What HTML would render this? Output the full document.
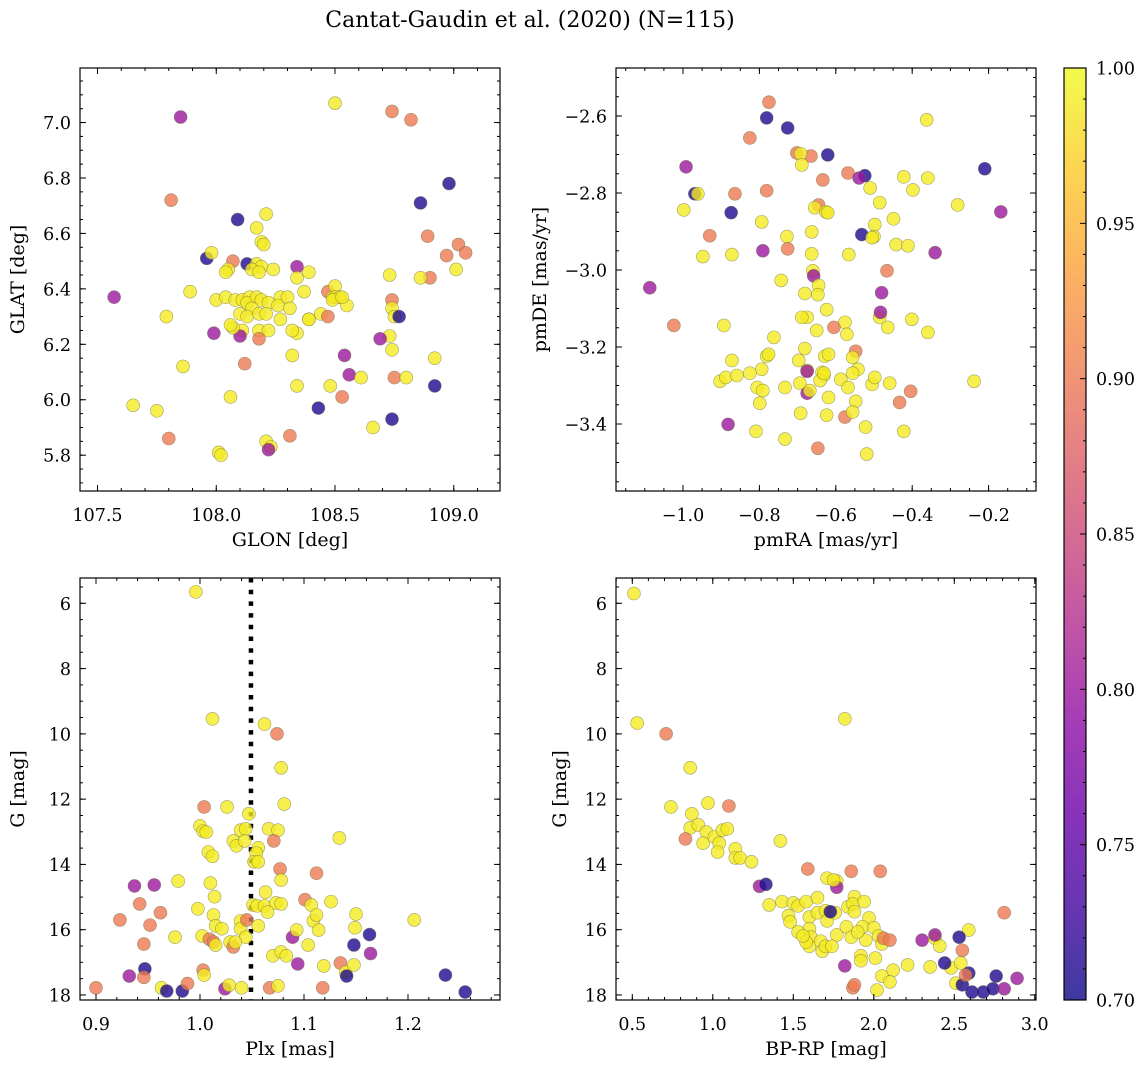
<!DOCTYPE html>
<html><head><meta charset="utf-8"><title>Cantat-Gaudin et al. (2020)</title>
<style>
html,body{margin:0;padding:0;background:#fff;}
svg{display:block;font-family:"DejaVu Serif","Liberation Serif",serif;}
</style></head>
<body>
<svg id="fig" width="1148" height="1067" viewBox="0 0 1148 1067" xmlns="http://www.w3.org/2000/svg">
<defs>
<linearGradient id="plasmaGrad" x1="0" y1="1" x2="0" y2="0">
<stop offset="0" stop-color="#0d0887"/><stop offset="0.1" stop-color="#41049d"/><stop offset="0.2" stop-color="#6a00a8"/><stop offset="0.3" stop-color="#8f0da4"/><stop offset="0.4" stop-color="#b12a90"/><stop offset="0.5" stop-color="#cc4778"/><stop offset="0.6" stop-color="#e16462"/><stop offset="0.7" stop-color="#f2844b"/><stop offset="0.8" stop-color="#fca636"/><stop offset="0.9" stop-color="#fcce25"/><stop offset="1" stop-color="#f0f921"/>
</linearGradient>
</defs>
<text x="530" y="27" font-size="22" text-anchor="middle">Cantat-Gaudin et al. (2020) (N=115)</text>
</svg>
<script>
// ---------- Panel 1: GLON / GLAT ----------
const glon = [107.57,107.81,107.85,108.50,108.74,108.82,108.98,108.86,108.89,109.02,109.05,108.97,109.01,108.90,108.86,108.09,107.96,107.98,108.13,108.07,107.89,108.05,108.04,108.00,108.04,108.17,108.21,108.19,108.20,108.17,108.19,108.24,108.15,108.18,108.08,108.11,108.14,108.13,108.17,108.19,108.22,108.27,108.26,108.30,108.31,108.15,108.10,108.13,108.18,108.21,108.27,108.11,108.18,108.22,108.10,108.18,108.07,108.06,108.34,108.34,108.39,108.37,108.47,108.49,108.50,108.50,108.52,108.49,108.55,108.44,108.39,108.34,108.39,108.32,108.47,108.53,108.73,108.74,108.74,108.75,108.77,108.73,108.69,108.74,108.54,108.56,108.53,108.48,108.61,108.75,108.80,108.92,108.92,108.32,108.34,108.43,108.74,108.66,108.31,108.21,108.23,108.22,108.01,108.02,108.06,107.80,107.75,107.65,107.79,107.86,107.99,108.12];
const glat = [6.37,6.72,7.02,7.07,7.04,7.01,6.78,6.71,6.59,6.56,6.53,6.52,6.47,6.44,6.44,6.65,6.51,6.53,6.49,6.50,6.39,6.47,6.46,6.36,6.37,6.62,6.67,6.57,6.56,6.49,6.48,6.47,6.47,6.46,6.36,6.36,6.37,6.35,6.37,6.36,6.35,6.37,6.34,6.37,6.33,6.33,6.31,6.30,6.31,6.31,6.29,6.25,6.25,6.25,6.23,6.22,6.26,6.27,6.48,6.44,6.46,6.39,6.39,6.37,6.41,6.37,6.37,6.36,6.34,6.31,6.29,6.24,6.29,6.25,6.30,6.37,6.45,6.36,6.33,6.30,6.30,6.23,6.22,6.18,6.16,6.09,6.01,6.05,6.08,6.08,6.08,6.15,6.05,6.16,6.05,5.97,5.93,5.90,5.87,5.85,5.83,5.82,5.81,5.80,6.01,5.86,5.96,5.98,6.30,6.12,6.24,6.13];
const prob1 = [0.80,0.90,0.80,0.99,0.90,0.90,0.71,0.71,0.90,0.90,0.90,0.90,0.99,0.90,0.99,0.71,0.71,0.99,0.71,0.90,0.99,0.99,0.99,0.99,0.99,0.99,0.99,0.99,0.99,0.99,0.99,0.99,0.99,0.99,0.99,0.99,0.99,0.99,0.99,0.99,0.99,0.99,0.99,0.99,0.99,0.99,0.99,0.99,0.99,0.99,0.99,0.99,0.99,0.99,0.80,0.90,0.99,0.99,0.80,0.99,0.99,0.99,0.90,0.99,0.99,0.99,0.99,0.99,0.99,0.99,0.99,0.99,0.99,0.99,0.90,0.99,0.99,0.90,0.99,0.99,0.71,0.99,0.80,0.99,0.80,0.80,0.90,0.99,0.99,0.90,0.99,0.99,0.71,0.99,0.99,0.71,0.71,0.99,0.90,0.99,0.99,0.80,0.99,0.99,0.99,0.90,0.99,0.99,0.99,0.99,0.80,0.90];

// ---------- Panel 2: pmRA / pmDE ----------
const pmra = [-0.775,-0.781,-0.825,-0.726,-0.362,-0.992,-0.969,-0.961,-0.864,-0.781,-0.702,-0.665,-0.621,-0.692,-0.689,-0.524,-0.210,-0.168,-0.281,-0.422,-0.359,-0.398,-0.485,-0.510,-0.634,-0.568,-0.539,-0.645,-0.655,-0.626,-0.621,-0.998,-0.874,-0.794,-0.663,-0.498,-0.449,-0.930,-0.532,-0.500,-0.505,-0.728,-0.791,-0.726,-0.872,-0.948,-0.663,-0.566,-0.442,-0.411,-0.340,-0.466,-0.660,-0.658,-0.645,-0.743,-0.480,-0.485,-1.087,-1.024,-0.893,-0.483,-0.401,-0.464,-0.359,-0.681,-0.647,-0.675,-0.650,-0.624,-0.576,-0.605,-0.762,-0.689,-0.681,-0.571,-0.629,-0.548,-0.556,-0.619,-0.542,-0.587,-0.568,-0.781,-0.776,-0.794,-0.697,-0.636,-0.631,-0.675,-0.872,-0.825,-0.903,-0.888,-0.859,-0.806,-0.791,-0.733,-0.694,-0.675,-0.675,-0.641,-0.631,-0.556,-0.505,-0.668,-0.692,-0.619,-0.624,-0.576,-0.548,-0.556,-0.522,-0.498,-0.459,-0.433,-0.422,-0.404,-0.238,-0.882,-0.809,-0.733,-0.647,-0.519,-0.799];
const pmde = [-2.564,-2.605,-2.657,-2.631,-2.610,-2.732,-2.802,-2.802,-2.802,-2.794,-2.696,-2.704,-2.701,-2.698,-2.727,-2.755,-2.737,-2.849,-2.831,-2.758,-2.761,-2.792,-2.825,-2.787,-2.766,-2.748,-2.761,-2.831,-2.838,-2.849,-2.851,-2.844,-2.851,-2.875,-2.901,-2.882,-2.867,-2.911,-2.908,-2.913,-2.916,-2.913,-2.950,-2.945,-2.960,-2.965,-2.958,-2.960,-2.934,-2.937,-2.955,-3.002,-3.002,-3.015,-3.040,-3.027,-3.059,-3.123,-3.046,-3.144,-3.144,-3.110,-3.128,-3.149,-3.162,-3.061,-3.064,-3.123,-3.157,-3.103,-3.136,-3.149,-3.175,-3.123,-3.204,-3.167,-3.224,-3.211,-3.227,-3.219,-3.258,-3.284,-3.305,-3.224,-3.219,-3.258,-3.235,-3.266,-3.274,-3.261,-3.235,-3.268,-3.289,-3.279,-3.274,-3.305,-3.313,-3.305,-3.294,-3.263,-3.320,-3.287,-3.268,-3.268,-3.297,-3.313,-3.372,-3.331,-3.377,-3.382,-3.341,-3.369,-3.408,-3.279,-3.294,-3.344,-3.419,-3.315,-3.289,-3.401,-3.419,-3.439,-3.463,-3.478,-3.346];
const prob2 = [0.90,0.71,0.90,0.71,0.99,0.80,0.71,0.99,0.90,0.90,0.90,0.90,0.71,0.99,0.99,0.71,0.71,0.80,0.99,0.99,0.99,0.99,0.99,0.99,0.90,0.90,0.80,0.90,0.99,0.99,0.99,0.99,0.71,0.99,0.99,0.99,0.99,0.90,0.71,0.99,0.99,0.99,0.80,0.90,0.99,0.99,0.99,0.99,0.99,0.99,0.80,0.90,0.99,0.80,0.99,0.99,0.80,0.99,0.80,0.90,0.99,0.80,0.99,0.99,0.99,0.99,0.99,0.99,0.99,0.99,0.99,0.90,0.99,0.99,0.99,0.99,0.99,0.90,0.99,0.99,0.99,0.99,0.99,0.99,0.99,0.99,0.99,0.99,0.99,0.99,0.99,0.99,0.99,0.99,0.99,0.99,0.99,0.99,0.99,0.80,0.80,0.99,0.99,0.99,0.99,0.99,0.99,0.99,0.99,0.90,0.99,0.99,0.99,0.99,0.99,0.90,0.99,0.90,0.99,0.80,0.99,0.99,0.90,0.99,0.99];

// ---------- Panel 3: Plx / G ----------
const plx = [0.996,1.012,1.062,1.074,1.078,1.081,1.004,1.026,1.047,1.000,1.003,1.006,1.039,1.044,1.066,1.075,1.071,1.032,1.035,1.043,1.056,1.008,1.012,1.054,1.052,1.056,1.134,1.077,1.112,0.979,1.010,1.078,1.063,0.998,1.013,1.015,1.051,1.126,1.014,1.055,1.062,1.073,1.078,1.065,1.101,1.107,1.109,1.112,1.150,1.114,1.104,1.039,1.039,1.044,1.056,1.045,1.002,1.009,1.013,1.015,1.029,1.032,1.034,1.021,0.976,1.089,1.094,1.070,1.078,1.083,1.093,0.937,0.956,0.923,0.962,0.942,0.952,0.946,0.947,0.946,0.932,0.900,0.963,0.968,0.983,0.988,1.003,1.004,1.024,1.028,1.040,1.067,1.075,1.118,1.119,1.135,1.140,1.141,1.148,1.148,1.164,1.163,1.206,1.236,1.255,1.149];
const gmag3 = [5.65,9.54,9.70,10.00,11.04,12.15,12.24,12.24,12.45,12.82,12.98,13.01,12.95,12.91,12.91,12.95,13.28,13.28,13.43,13.28,13.49,13.62,13.75,13.65,13.92,13.92,13.19,14.14,14.27,14.51,14.57,14.48,14.85,15.36,15.55,15.88,15.24,15.14,14.99,15.27,15.27,15.18,15.21,15.46,15.08,15.24,15.73,15.55,15.52,16.01,16.47,15.73,15.97,16.23,15.88,15.70,16.19,16.29,16.38,16.47,16.38,16.53,16.38,15.97,16.23,16.23,17.05,16.80,16.68,16.80,16.01,14.66,14.63,15.70,15.48,15.21,15.86,16.44,17.20,17.46,17.42,17.78,17.78,17.88,17.88,17.65,17.24,17.39,17.81,17.70,17.78,17.78,17.72,17.78,17.11,17.02,17.30,17.42,17.08,16.47,16.73,16.15,15.70,17.39,17.91,15.94];
const prob3 = [0.99,0.99,0.99,0.90,0.99,0.99,0.90,0.99,0.99,0.99,0.99,0.99,0.99,0.99,0.99,0.99,0.90,0.99,0.99,0.99,0.99,0.99,0.99,0.99,0.99,0.99,0.99,0.90,0.90,0.99,0.99,0.99,0.99,0.99,0.99,0.99,0.99,0.99,0.99,0.99,0.99,0.99,0.99,0.99,0.90,0.99,0.99,0.99,0.99,0.99,0.99,0.99,0.99,0.99,0.99,0.90,0.99,0.90,0.90,0.99,0.99,0.90,0.99,0.99,0.99,0.80,0.80,0.99,0.99,0.99,0.99,0.80,0.80,0.90,0.90,0.90,0.90,0.90,0.71,0.90,0.80,0.90,0.99,0.71,0.71,0.90,0.90,0.99,0.80,0.99,0.99,0.90,0.99,0.90,0.99,0.90,0.99,0.71,0.99,0.71,0.80,0.71,0.99,0.71,0.71,0.99];
const plxRef = [1.049];

// ---------- Panel 4: BP-RP / G ----------
const bprp = [0.51,0.53,1.82,0.71,0.86,0.74,0.97,1.10,0.87,0.86,0.83,0.91,0.96,0.94,1.01,1.06,1.09,1.04,1.03,1.14,1.14,1.17,1.24,1.42,1.29,1.33,1.59,1.86,2.04,1.71,1.77,1.77,1.75,1.35,1.43,1.50,1.53,1.47,1.58,1.60,1.65,1.65,1.70,1.71,1.76,1.73,1.84,1.88,1.87,1.94,1.97,1.77,1.60,1.61,1.60,1.58,1.67,1.68,1.70,1.74,1.88,1.93,1.83,1.95,2.00,2.03,2.05,2.06,2.01,1.92,1.82,1.86,1.90,2.10,2.12,2.05,2.10,2.21,1.87,1.88,1.92,2.02,2.35,2.30,2.38,2.41,2.48,2.44,2.54,2.59,2.51,2.55,2.59,2.38,2.53,2.55,2.57,2.81,2.61,2.68,2.74,2.76,2.81,2.89,1.48,1.53,1.56];
const gmag4 = [5.70,9.67,9.54,10.00,11.04,12.24,12.12,12.21,12.45,12.88,13.22,12.79,13.01,13.35,13.16,12.95,12.91,13.35,13.62,13.52,13.80,13.80,13.92,13.28,14.67,14.61,14.14,14.21,14.21,14.42,14.51,14.70,14.48,15.24,15.14,15.18,15.27,15.57,15.14,15.61,15.02,15.48,15.42,15.73,15.48,15.45,15.30,14.99,15.21,15.14,15.64,16.16,15.97,16.23,16.51,16.38,16.35,16.66,16.51,16.51,15.45,15.91,15.91,16.32,15.94,16.19,16.44,16.26,16.87,16.80,17.11,16.23,16.07,16.32,17.24,17.42,17.60,17.08,17.78,17.69,16.95,17.85,17.14,16.32,16.26,16.50,17.17,17.02,17.02,17.33,17.64,16.63,16.01,16.16,16.23,17.69,17.39,15.48,17.91,17.91,17.81,17.42,17.81,17.49,15.76,16.07,16.19];
const prob4 = [0.99,0.99,0.99,0.90,0.99,0.99,0.99,0.90,0.99,0.99,0.90,0.99,0.99,0.99,0.99,0.99,0.99,0.99,0.99,0.99,0.99,0.99,0.99,0.99,0.80,0.71,0.90,0.90,0.90,0.99,0.99,0.80,0.99,0.99,0.99,0.99,0.99,0.99,0.99,0.99,0.99,0.99,0.99,0.99,0.99,0.71,0.99,0.99,0.99,0.99,0.99,0.99,0.99,0.99,0.99,0.99,0.99,0.99,0.99,0.99,0.99,0.99,0.99,0.99,0.99,0.99,0.99,0.90,0.99,0.99,0.80,0.99,0.99,0.90,0.99,0.99,0.99,0.99,0.90,0.90,0.99,0.99,0.99,0.80,0.99,0.99,0.99,0.71,0.99,0.71,0.99,0.90,0.99,0.80,0.71,0.71,0.90,0.90,0.71,0.71,0.71,0.71,0.80,0.80,0.99,0.99,0.99];

const cbTicks = [0.70,0.75,0.80,0.85,0.90,0.95,1.00];

const NS = 'http://www.w3.org/2000/svg';
const svg = document.getElementById('fig');
const stops = [[13,8,135],[65,4,157],[106,0,168],[143,13,164],[177,42,144],[204,71,120],[225,100,98],[242,132,75],[252,166,54],[252,206,37],[240,249,33]];
function plasma(p){
  let t = (p-0.70)/0.30; t = Math.max(0,Math.min(1,t));
  const f = t*10, i = Math.min(9,Math.floor(f)), r = f-i;
  const a = stops[i], b = stops[i+1];
  return 'rgb('+a.map((v,k)=>Math.round(v+(b[k]-v)*r)).join(',')+')';
}
function mk(tag, attrs, parent){
  const e = document.createElementNS(NS, tag);
  for (const k in attrs) e.setAttribute(k, attrs[k]);
  (parent||svg).appendChild(e);
  return e;
}
function fmt(v, dec){ const s = v.toFixed(dec); return s.replace('-', '\u2212'); }

function panel(cfg){
  const g = mk('g', {});
  
  
  const X = v => cfg.x0 + (v - cfg.xmin)/(cfg.xmax - cfg.xmin)*(cfg.x1 - cfg.x0);
  const Y = cfg.invert ? (v => cfg.y0 + (v - cfg.ymin)/(cfg.ymax - cfg.ymin)*(cfg.y1 - cfg.y0))
                       : (v => cfg.y1 - (v - cfg.ymin)/(cfg.ymax - cfg.ymin)*(cfg.y1 - cfg.y0));
  if (cfg.vline !== undefined) {
    const l = mk('line', {x1:X(cfg.vline), x2:X(cfg.vline), y1:cfg.y0, y2:cfg.y1, stroke:'#000', 'stroke-width':4.5, 'stroke-dasharray':'4.5,7.2'}, g);
    
    
  }
  const pg = mk('g', {}, g);
  
  
  for (let i=0;i<cfg.xs.length;i++){
    const c = mk('circle', {cx:X(cfg.xs[i]), cy:Y(cfg.ys[i]), r:6.5, fill:plasma(cfg.ps[i]), 'fill-opacity':0.8, stroke:'#6a6a40', 'stroke-opacity':0.6, 'stroke-width':0.6}, pg);
    
    
  }
  const fr = mk('rect', {x:cfg.x0, y:cfg.y0, width:cfg.x1-cfg.x0, height:cfg.y1-cfg.y0, fill:'none', stroke:'#000', 'stroke-width':1.2}, g);
  
  
  const eps = 1e-9;
  function ticksX(step, len, labels){
    const s = Math.ceil(cfg.xmin/step - eps);
    for (let k=s; k*step <= cfg.xmax + eps; k++){
      const v = k*step, px = X(v);
      mk('line', {x1:px,x2:px,y1:cfg.y1,y2:cfg.y1-len,stroke:'#000','stroke-width':1}, g);
      mk('line', {x1:px,x2:px,y1:cfg.y0,y2:cfg.y0+len,stroke:'#000','stroke-width':1}, g);
      if (labels){
        const t = mk('text', {x:px, y:cfg.y1+30, 'font-size':17.5, 'text-anchor':'middle'}, g);
        t.textContent = fmt(v, cfg.xdec);
        
        
      }
    }
  }
  function ticksY(step, len, labels){
    const lo = Math.min(cfg.ymin,cfg.ymax), hi = Math.max(cfg.ymin,cfg.ymax);
    const s = Math.ceil(lo/step - eps);
    for (let k=s; k*step <= hi + eps; k++){
      const v = k*step, py = Y(v);
      mk('line', {x1:cfg.x0,x2:cfg.x0+len,y1:py,y2:py,stroke:'#000','stroke-width':1}, g);
      mk('line', {x1:cfg.x1,x2:cfg.x1-len,y1:py,y2:py,stroke:'#000','stroke-width':1}, g);
      if (labels){
        const t = mk('text', {x:cfg.x0-9, y:py+6.5, 'font-size':17.5, 'text-anchor':'end'}, g);
        t.textContent = fmt(v, cfg.ydec);
        
        
      }
    }
  }
  ticksX(cfg.xmin_step, 3, false); ticksX(cfg.xmaj, 6, true);
  ticksY(cfg.ymin_step, 3, false); ticksY(cfg.ymaj, 6, true);
  const xl = mk('text', {x:(cfg.x0+cfg.x1)/2, y:cfg.y1+55, 'font-size':19, 'text-anchor':'middle'}, g);
  xl.textContent = cfg.xlabel;
  
  
  const yc = (cfg.y0+cfg.y1)/2;
  const yl = mk('text', {x:cfg.ylx, y:yc, 'font-size':19, 'text-anchor':'middle', transform:'rotate(-90 '+cfg.ylx+' '+yc+')'}, g);
  yl.textContent = cfg.ylabel;
  
  
}

panel({name:'glon-glat-panel', x0:80,x1:500,y0:68,y1:491, xmin:107.4263,xmax:109.1947, ymin:5.6708,ymax:7.1968,
  xs:glon, ys:glat, ps:prob1, xmaj:0.5, xmin_step:0.1, ymaj:0.2, ymin_step:0.05, xdec:1, ydec:1,
  xlabel:'GLON [deg]', ylabel:'GLAT [deg]', ylx:24});
panel({name:'proper-motion-panel', x0:616,x1:1036,y0:68,y1:491, xmin:-1.1754,xmax:-0.0759, ymin:-3.5740,ymax:-2.4753,
  xs:pmra, ys:pmde, ps:prob2, xmaj:0.2, xmin_step:0.05, ymaj:0.2, ymin_step:0.05, xdec:1, ydec:1,
  xlabel:'pmRA [mas/yr]', ylabel:'pmDE [mas/yr]', ylx:546});
panel({name:'parallax-mag-panel', x0:80,x1:500,y0:578,y1:1000, xmin:0.88462,xmax:1.28846, ymin:5.225,ymax:18.154, invert:true,
  xs:plx, ys:gmag3, ps:prob3, xmaj:0.1, xmin_step:0.02, ymaj:2, ymin_step:0.5, xdec:1, ydec:0, vline:plxRef[0],
  xlabel:'Plx [mas]', ylabel:'G [mag]', ylx:24});
panel({name:'cmd-panel', x0:616,x1:1036,y0:578,y1:1000, xmin:0.3988,xmax:3.0075, ymin:5.225,ymax:18.154, invert:true,
  xs:bprp, ys:gmag4, ps:prob4, xmaj:0.5, xmin_step:0.1, ymaj:2, ymin_step:0.5, xdec:1, ydec:0,
  xlabel:'BP-RP [mag]', ylabel:'G [mag]', ylx:566});

(function(){
  const g = mk('g', {});
  
  
  const cx0=1064, cx1=1086, cy0=68, cy1=1000;
  mk('rect', {x:cx0,y:cy0,width:cx1-cx0,height:cy1-cy0,fill:'url(#plasmaGrad)','fill-opacity':0.8}, g);
  mk('rect', {x:cx0,y:cy0,width:cx1-cx0,height:cy1-cy0,fill:'none',stroke:'#000','stroke-width':1.2}, g);
  const Yc = v => cy1 - (v-0.70)/0.30*(cy1-cy0);
  for (let k=70;k<=100;k++){
    const v=k/100, py=Yc(v), major=(k%5===0);
    mk('line', {x1:cx1,x2:cx1-(major?6:3),y1:py,y2:py,stroke:'#000','stroke-width':1}, g);
  }
  cbTicks.forEach(v=>{
    const t = mk('text', {x:cx1+10, y:Yc(v)+6.5, 'font-size':17.5}, g);
    t.textContent = v.toFixed(2);
    
    
  });
})();
</script>
</body></html>
